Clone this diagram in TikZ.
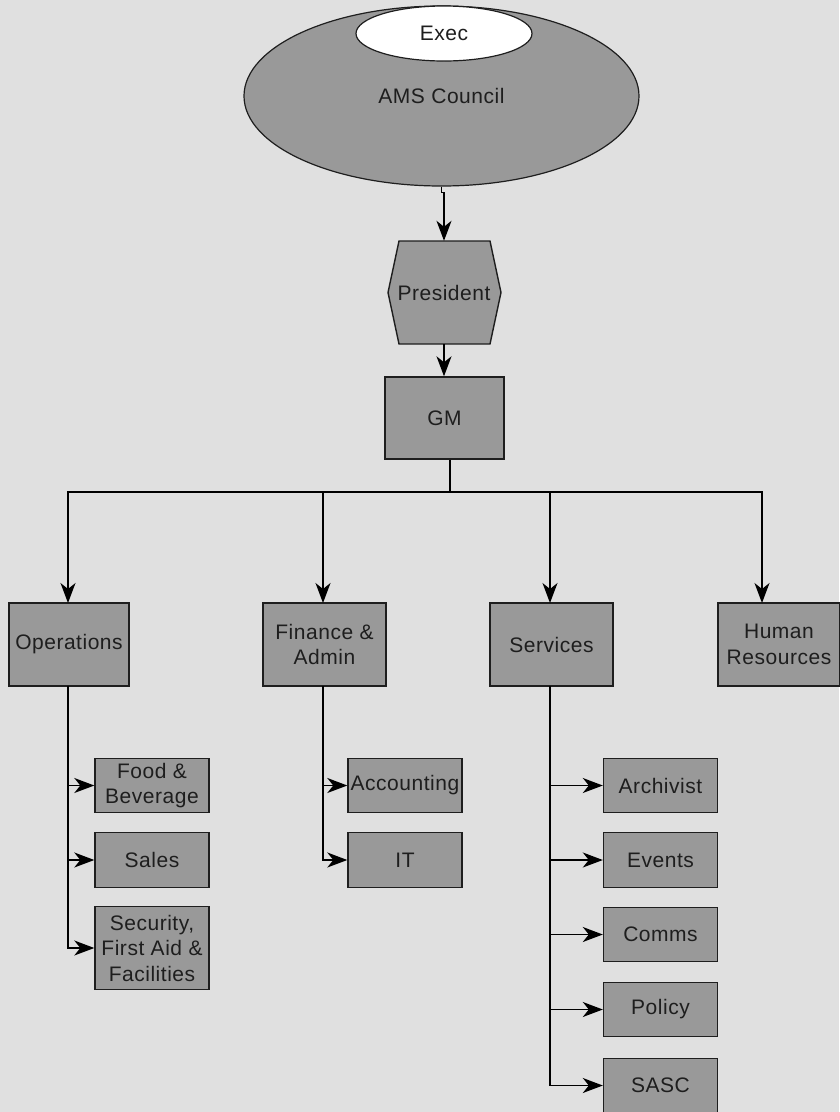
\documentclass[tikz,border=0pt]{standalone}
\usepackage{fontspec}
\setmainfont{Liberation Sans}[LetterSpace=2.5]
\usetikzlibrary{shapes.geometric,arrows.meta}
\definecolor{bg}{RGB}{224,224,224}
\definecolor{boxgray}{RGB}{153,153,153}
\definecolor{ink}{RGB}{30,30,30}
\tikzset{
  txt/.style={font=\fontsize{21}{25.5}\selectfont, text=ink, align=center, inner sep=0pt},
  orgbox/.style={txt, draw=ink, fill=boxgray, line width=1.4pt, rectangle},
  topbox/.style={orgbox, minimum width=120pt, minimum height=83pt},
  subbox/.style={orgbox, minimum width=114pt, minimum height=54.5pt},
  conn/.style={draw=black, line width=1.5pt},
  arr/.style={conn, -{Stealth[length=20pt, width=15pt, inset=6pt]}}
}
\begin{document}
\begin{tikzpicture}[x=1pt, y=-1pt]
\useasboundingbox (0,0) rectangle (839,1112);
\fill[bg] (0,0) rectangle (839,1112);

% Council and Exec
\node[txt, ellipse, draw=ink, fill=boxgray, line width=1.2pt, minimum width=395pt, minimum height=180pt] (council) at (441.5,96) {AMS Council};
\node[txt, ellipse, draw=ink, fill=white, line width=1.2pt, minimum width=176pt, minimum height=55pt] (exec) at (444,33.5) {Exec};

% President hexagon
\node[txt, minimum width=113pt, minimum height=103pt] (pres) at (444,292.5) {};
\draw[draw=ink, fill=boxgray, line width=1.4pt]
  (399,241) -- (490,241) -- (501,292.5) -- (490,344) -- (399,344) -- (388,292.5) -- cycle;
\node[txt] (prestext) at (pres.center) {President};

% GM
\node[orgbox, minimum width=119pt, minimum height=82pt] (gm) at (444.5,418) {GM};

% Departments
\node[topbox] (ops) at (69,644.5) {Operations};
\node[topbox, minimum width=123pt] (fin) at (324.5,644.5) {Finance \&\\Admin};
\node[topbox, minimum width=123pt] (serv) at (551.5,644.5) {Services};
\node[topbox, minimum width=122pt] (hr) at (779,644.5) {Human\\Resources};

% Operations children
\node[subbox] (food) at (152,785.5) {Food \&\\Beverage};
\node[subbox] (sales) at (152,860) {Sales};
\node[subbox, minimum height=82.5pt] (sec) at (152,948) {Security,\\First Aid \&\\Facilities};

% Finance children
\node[subbox] (acc) at (405,785.5) {Accounting};
\node[subbox] (it) at (405,860) {IT};

% Services children
\node[subbox] (arch) at (660.5,785.5) {Archivist};
\node[subbox] (events) at (660.5,860) {Events};
\node[subbox] (comms) at (660.5,934.5) {Comms};
\node[subbox] (policy) at (660.5,1009.5) {Policy};
\node[subbox] (sasc) at (660.5,1085.5) {SASC};

% Top connectors
\draw[arr] (council.south) -- ++(0,6) -| (pres.north);
\draw[arr] (pres.south) -- (gm.north -| pres.south);

% Bus
\coordinate (bus) at (450,492);
\coordinate (opsin) at (68,603);
\coordinate (finin) at (323,603);
\coordinate (servin) at (550,603);
\coordinate (hrin) at (762,603);
\draw[conn] (gm.south -| bus) -- (bus);
\draw[arr] (bus) -| (opsin);
\draw[arr] (bus) -| (finin);
\draw[arr] (bus) -| (servin);
\draw[arr] (bus) -| (hrin);

% Operations branches
\coordinate (opsout) at (68,686);
\draw[arr] (opsout) |- (sec.west);
\draw[arr] (opsout |- food.west) -- (food.west);
\draw[arr] (opsout |- sales.west) -- (sales.west);

% Finance branches
\coordinate (finout) at (323,686);
\draw[arr] (finout) |- (it.west);
\draw[arr] (finout |- acc.west) -- (acc.west);

% Services branches
\coordinate (servout) at (550,686);
\draw[arr] (servout) |- (sasc.west);
\draw[arr] (servout |- arch.west) -- (arch.west);
\draw[arr] (servout |- events.west) -- (events.west);
\draw[arr] (servout |- comms.west) -- (comms.west);
\draw[arr] (servout |- policy.west) -- (policy.west);
\end{tikzpicture}
\end{document}
